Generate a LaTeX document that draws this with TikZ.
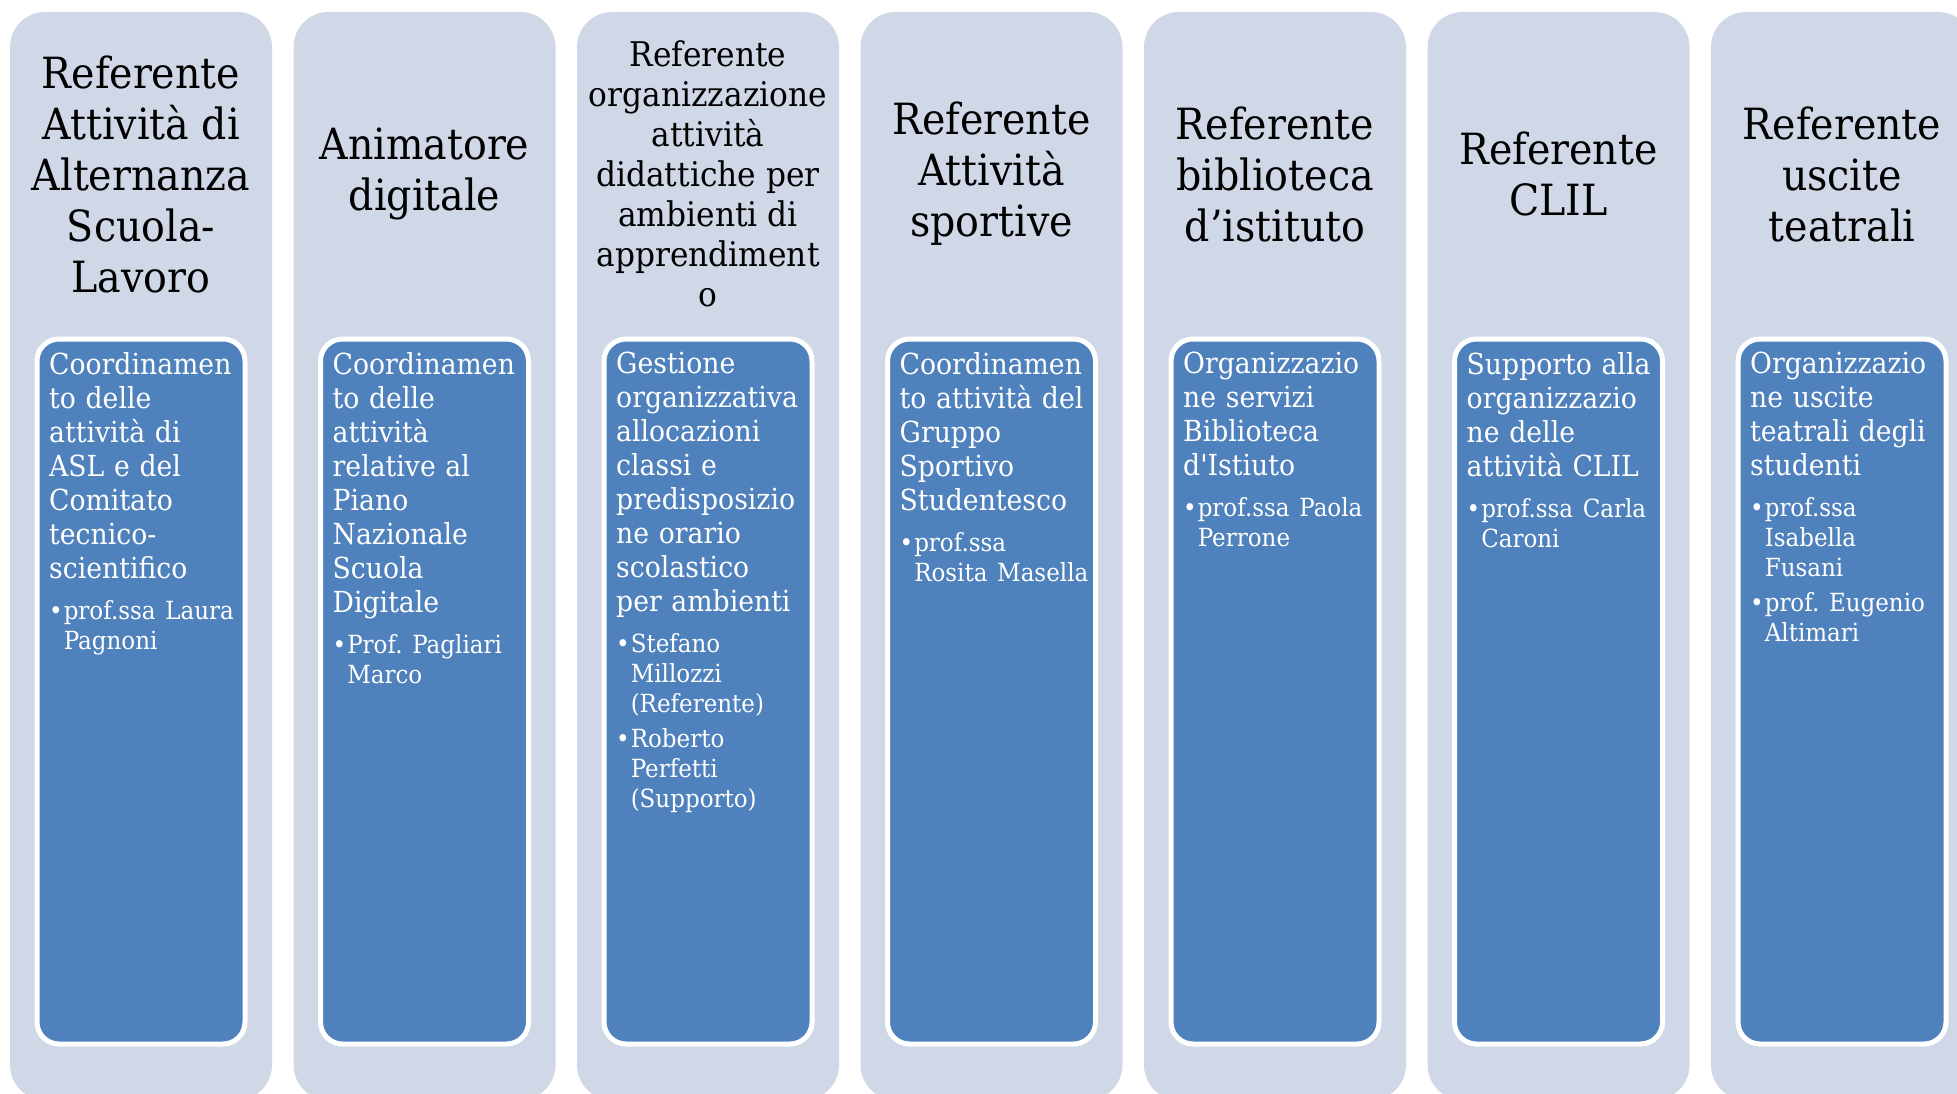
\documentclass[tikz,border=0pt]{standalone}
\usepackage{fontspec}
\setmainfont[FakeStretch=0.92,Ligatures=TeXOff]{DejaVu Serif}
\frenchspacing

\definecolor{colfill}{HTML}{D0D8E8}
\definecolor{boxfill}{HTML}{4F81BD}

% bullet list of the people in charge
\newcommand{\persons}[1]{\par\vspace{11pt}{\fontsize{25}{30}\selectfont
\begin{tabular}[t]{@{}l@{\hspace{1pt}}l@{}}#1\end{tabular}\par}}

\begin{document}
\begin{tikzpicture}[x=1pt,y=-1pt,
  colbox/.style={fill=colfill,draw=none,rounded corners=35pt},
  itembox/.style={fill=boxfill,draw=white,line width=5pt,rounded corners=22pt},
  headtext/.style={align=center,inner sep=0pt,font=\fontsize{43}{51}\selectfont},
  smallhead/.style={headtext,font=\fontsize{34}{40}\selectfont},
  bodytext/.style={anchor=north west,inner sep=0pt,text width=205pt,align=left,text=white,font=\fontsize{29}{34}\selectfont}]
\useasboundingbox (0,0) rectangle (1957,1094);
\clip (0,0) rectangle (1957,1094);

\draw[colbox] (10,12) rectangle (272,1100);
\draw[colbox] (293.5,12) rectangle (555.5,1100);
\draw[colbox] (577,12) rectangle (839,1100);
\draw[colbox] (860.5,12) rectangle (1122.5,1100);
\draw[colbox] (1144,12) rectangle (1406,1100);
\draw[colbox] (1427.5,12) rectangle (1689.5,1100);
\draw[colbox] (1711,12) rectangle (1973,1100);

\draw[itembox] (37,339) rectangle (245,1044);
\draw[itembox] (320.5,339) rectangle (528.5,1044);
\draw[itembox] (604,339) rectangle (812,1044);
\draw[itembox] (887.5,339) rectangle (1095.5,1044);
\draw[itembox] (1171,339) rectangle (1379,1044);
\draw[itembox] (1454.5,339) rectangle (1662.5,1044);
\draw[itembox] (1738,339) rectangle (1946,1044);

\node[headtext] (head1) at (141,174) {Referente\\Attività di\\Alternanza\\Scuola-\\Lavoro};
\node[headtext] (head2) at (424.5,174) {Animatore\\digitale};
\node[smallhead] (head3) at (708,174) {Referente\\organizzazione\\attività\\didattiche per\\ambienti di\\apprendiment\\o};
\node[headtext] (head4) at (991.5,174) {Referente\\Attività\\sportive};
\node[headtext] (head5) at (1275,174) {Referente\\biblioteca\\d’istituto};
\node[headtext] (head6) at (1558.5,174) {Referente\\CLIL};
\node[headtext] (head7) at (1842,174) {Referente\\uscite\\teatrali};

\node[bodytext] (body1) at (49,352) {Coordinamen\\to delle\\attività di\\ASL e del\\Comitato\\tecnico-\\scientifico
\persons{•&prof.ssa Laura\\&Pagnoni}};
\node[bodytext] (body2) at (332.5,352) {Coordinamen\\to delle\\attività\\relative al\\Piano\\Nazionale\\Scuola\\Digitale
\persons{•&Prof. Pagliari\\&Marco}};
\node[bodytext] (body3) at (616,352) {Gestione\\organizzativa\\allocazioni\\classi e\\predisposizio\\ne orario\\scolastico\\per ambienti
\persons{•&Stefano\\&Millozzi\\&(Referente)\\[5pt]•&Roberto\\&Perfetti\\&(Supporto)}};
\node[bodytext] (body4) at (899.5,352) {Coordinamen\\to attività del\\Gruppo\\Sportivo\\Studentesco
\persons{•&prof.ssa\\&Rosita Masella}};
\node[bodytext] (body5) at (1183,352) {Organizzazio\\ne servizi\\Biblioteca\\d'Istiuto
\persons{•&prof.ssa Paola\\&Perrone}};
\node[bodytext] (body6) at (1466.5,352) {Supporto alla\\organizzazio\\ne delle\\attività CLIL
\persons{•&prof.ssa Carla\\&Caroni}};
\node[bodytext] (body7) at (1750,352) {Organizzazio\\ne uscite\\teatrali degli\\studenti
\persons{•&prof.ssa\\&Isabella\\&Fusani\\[5pt]•&prof. Eugenio\\&Altimari}};

\end{tikzpicture}
\end{document}
